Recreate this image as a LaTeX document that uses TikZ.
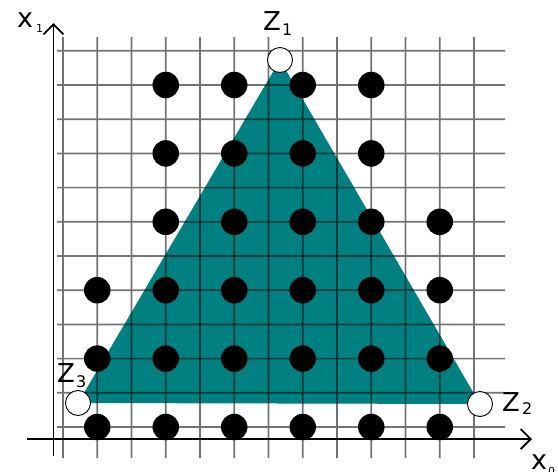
\documentclass[tikz,border=0pt]{standalone}
\usepackage{fontspec}
\setmainfont{DejaVu Sans}
\usetikzlibrary{arrows.meta}
\definecolor{tealfill}{RGB}{0,128,128}
\begin{document}
\begin{tikzpicture}[x=1pt,y=-1pt,
  gridline/.style={black, line width=1.7pt},
  dotnode/.style={circle, fill=black, minimum size=26.5pt, inner sep=0pt},
  vertex/.style={circle, draw=black, fill=white, line width=0.9pt, minimum size=25pt, inner sep=0pt},
  axisline/.style={black, line width=1.8pt, -{Straight Barb[length=10pt,width=20pt,line width=1.8pt]}},
  lbl/.style={inner sep=0pt, anchor=base west, font=\fontsize{26}{26}\selectfont},
  sublbl/.style={inner sep=0pt, anchor=base west, font=\fontsize{16}{16}\selectfont},
  axlbl/.style={inner sep=0pt, anchor=base west, font=\fontsize{27}{27}\selectfont},
  axsub/.style={inner sep=0pt, anchor=base west, font=\fontsize{11}{11}\selectfont}]
\useasboundingbox (0,0) rectangle (558,472);
% triangle vertices
\coordinate (Z1) at (280,60);
\coordinate (Z2) at (480,404);
\coordinate (Z3) at (78,403);
\fill[tealfill] (Z1) -- (Z2) -- (Z3) -- cycle;
% grid
\begin{scope}[transparency group, opacity=0.55]
\foreach \i in {0,...,12}{
  \coordinate (gv\i a) at ({63+34.25*\i},37);
  \coordinate (gv\i b) at ({63+34.25*\i},458);
  \draw[gridline] (gv\i a) -- (gv\i b);
}
\foreach \j in {0,...,11}{
  \coordinate (gh\j a) at (57,{427-34.2*\j});
  \coordinate (gh\j b) at (505,{427-34.2*\j});
  \draw[gridline] (gh\j a) -- (gh\j b);
}
\end{scope}
% dots
\foreach \i/\j in {3/10,5/10,7/10,9/10,
                   3/8,5/8,7/8,9/8,
                   3/6,5/6,7/6,9/6,11/6,
                   1/4,3/4,5/4,7/4,9/4,11/4,
                   1/2,3/2,5/2,7/2,9/2,11/2,
                   1/0,3/0,5/0,7/0,9/0,11/0}{
  \node[dotnode] (d\i-\j) at ({63+34.25*\i},{427-34.2*\j}) {};
}
% axes
\coordinate (xs) at (27,439);
\coordinate (xe) at (532,439);
\coordinate (ys) at (53.5,456);
\coordinate (ye) at (53.5,23);
\draw[axisline] (xs) -- (xe);
\draw[axisline] (ys) -- (ye);
% vertex circles
\node[vertex] (z1) at (Z1) {};
\node[vertex] (z2) at (Z2) {};
\node[vertex] (z3) at (Z3) {};
% labels
\node[lbl] (l1) at (263,30) {Z};
\node[sublbl] (l1s) at (282,35) {1};
\node[lbl] (l2) at (502,411) {Z};
\node[sublbl] (l2s) at (522,414) {2};
\node[lbl] (l3) at (57,382) {Z};
\node[sublbl] (l3s) at (76,387) {3};
\node[axlbl] (lx1) at (17,27) {x};
\node[axsub] (lx1s) at (36,32) {1};
\node[axlbl] (lx0) at (531,469) {x};
\node[axsub] (lx0s) at (548,475) {0};
\end{tikzpicture}
\end{document}
